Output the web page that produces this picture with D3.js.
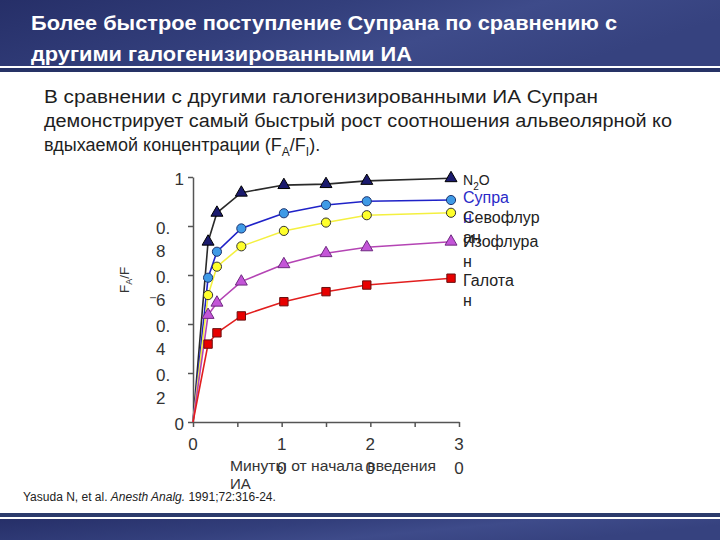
<!DOCTYPE html>
<html><head><meta charset="utf-8">
<script src="https://cdn.jsdelivr.net/npm/d3@7"></script>
<style>body{margin:0;background:#fff}svg{display:block}text{font-family:"Liberation Sans",Arial,sans-serif}</style>
</head><body><svg id="c" width="720" height="540"></svg>
<script>
// ---- data ----
const times  = [0, 1.7, 2.7, 5.45, 10.25, 15.0, 19.6, 29.1];
const n2o    = [0, 0.736, 0.854, 0.936, 0.967, 0.971, 0.984, 0.995];
const supran = [0, 0.589, 0.695, 0.790, 0.852, 0.886, 0.901, 0.906];
const sevo   = [0, 0.518, 0.634, 0.717, 0.780, 0.814, 0.844, 0.854];
const iso    = [0, 0.437, 0.487, 0.573, 0.644, 0.689, 0.713, 0.736];
const halo   = [0, 0.318, 0.364, 0.433, 0.491, 0.532, 0.559, 0.587];
const xTicks = [0, 5, 10, 15, 20, 25, 30];
const xLabelValues = [0, 10, 20, 30];
const xLabels = ["0", "1\n0", "2\n0", "3\n0"];
const yTicks = [0, 0.2, 0.4, 0.6, 0.8, 1];
const yLabels = ["0", "0.\n2", "0.\n4", "0.\n6", "0.\n8", "1"];
const seriesNames = ["N2O", "Супра\nн", "Севофлур\nан", "Изофлура\nн", "Галота\nн"];
const titleLines = ["Более быстрое поступление Супрана по сравнению с", "другими галогенизированными ИА"];
const subLines = ["В сравнении с другими галогенизированными ИА Супран", "демонстрирует самый быстрый рост соотношения альвеолярной ко"];

const svg = d3.select("#c");
// ---- banners ----
const defs = svg.append("defs");
const g1 = defs.append("linearGradient").attr("id","bg").attr("x1","0").attr("x2","1").attr("y1","0").attr("y2","0.3");
g1.append("stop").attr("offset","0").attr("stop-color","#262f68");
g1.append("stop").attr("offset","0.45").attr("stop-color","#333f7c");
g1.append("stop").attr("offset","0.7").attr("stop-color","#3e4b8a");
g1.append("stop").attr("offset","1").attr("stop-color","#36427f");
svg.append("rect").attr("x",0).attr("y",0).attr("width",720).attr("height",66).attr("fill","url(#bg)");
svg.append("rect").attr("x",0).attr("y",68).attr("width",720).attr("height",4).attr("fill","#263266");
svg.append("rect").attr("x",0).attr("y",513).attr("width",720).attr("height",4).attr("fill","#2c3b6c");
svg.append("rect").attr("x",0).attr("y",519).attr("width",720).attr("height",21).attr("fill","url(#bg)");

svg.append("text").attr("x",31).attr("y",30).attr("fill","#fff").attr("font-weight","bold").attr("font-size",19.5)
  .attr("textLength",586).attr("lengthAdjust","spacingAndGlyphs").text(titleLines[0]);
svg.append("text").attr("x",31).attr("y",61).attr("fill","#fff").attr("font-weight","bold").attr("font-size",19.5)
  .attr("textLength",381).attr("lengthAdjust","spacingAndGlyphs").text(titleLines[1]);

svg.append("text").attr("x",44).attr("y",103).attr("fill","#1e1e1e").attr("font-size",18)
  .attr("textLength",554).attr("lengthAdjust","spacingAndGlyphs").text(subLines[0]);
svg.append("text").attr("x",44).attr("y",127).attr("fill","#1e1e1e").attr("font-size",18)
  .attr("textLength",628).attr("lengthAdjust","spacingAndGlyphs").text(subLines[1]);
const s3 = svg.append("text").attr("x",44).attr("y",151).attr("fill","#1e1e1e").attr("font-size",18);
s3.append("tspan").text("вдыхаемой концентрации (F");
s3.append("tspan").attr("font-size",12).attr("dy",5).text("A");
s3.append("tspan").attr("dy",-5).text("/F");
s3.append("tspan").attr("font-size",12).attr("dy",5).text("I");
s3.append("tspan").attr("dy",-5).text(").");

const cit = svg.append("text").attr("x",23).attr("y",501).attr("fill","#222").attr("font-size",12);
cit.append("tspan").text("Yasuda N, et al. ");
cit.append("tspan").attr("font-style","italic").text("Anesth Analg.");
cit.append("tspan").text(" 1991;72:316-24.");

// ---- scales & axes ----
const x = d3.scaleLinear().domain([0,30]).range([193,459]);
const y = d3.scaleLinear().domain([0,1]).range([422,177]);

const ax = svg.append("g").attr("transform","translate(0,422)")
  .call(d3.axisBottom(x).tickValues(xTicks).tickSize(5).tickSizeOuter(0).tickFormat(""));
const ay = svg.append("g").attr("transform","translate(193,0)")
  .call(d3.axisLeft(y).tickValues(yTicks).tickSize(5).tickSizeOuter(0).tickFormat(""));
[ax, ay].forEach(a => { a.selectAll("path,line").attr("stroke","#555").attr("stroke-width",1.5); });

const axisFont = 17, axisColor = "#333";
xLabelValues.forEach((v,i) => {
  const lines = xLabels[i].split("\n");
  lines.forEach((l,j) => svg.append("text").attr("x",x(v)).attr("y",450 + j*24)
    .attr("text-anchor","middle").attr("font-size",axisFont).attr("fill",axisColor).text(l));
});
yTicks.forEach((v,i) => {
  const lines = yLabels[i].split("\n");
  if (lines.length === 1) {
    svg.append("text").attr("x",184).attr("y",y(v)+7.5).attr("text-anchor","end")
      .attr("font-size",axisFont).attr("fill",axisColor).text(lines[0]);
  } else {
    lines.forEach((l,j) => svg.append("text").attr("x",156).attr("y",y(v)+8+j*23)
      .attr("font-size",axisFont).attr("fill",axisColor).text(l));
  }
});

// axis titles
const yt = svg.append("text").attr("transform","translate(129,293) rotate(-90)").attr("font-size",13.5).attr("fill",axisColor);
yt.append("tspan").text("F");
yt.append("tspan").attr("font-size",9).attr("dy",3).text("A");
yt.append("tspan").attr("dy",-3).text("/F");
svg.append("text").attr("transform","translate(156,299) rotate(-90)").attr("font-size",9).attr("fill",axisColor).text("I");

svg.append("text").attr("x",230).attr("y",471).attr("font-size",15).attr("fill",axisColor)
  .attr("textLength",206).attr("lengthAdjust","spacingAndGlyphs").text("Минуты от начала введения");
svg.append("text").attr("x",230).attr("y",489).attr("font-size",15).attr("fill",axisColor).text("ИА");

// ---- series ----
const series = [
  {vals:n2o,    line:"#2a2a2a", fill:"#1b1b6e", stroke:"#000",    sym:d3.symbolTriangle, size:62},
  {vals:supran, line:"#1f22c8", fill:"#3f9ae6", stroke:"#1c3470", sym:d3.symbolCircle,   size:66},
  {vals:sevo,   line:"#f4f040", fill:"#ffff2a", stroke:"#333",    sym:d3.symbolCircle,   size:66},
  {vals:iso,    line:"#b444b4", fill:"#c455d8", stroke:"#6e2a80", sym:d3.symbolTriangle, size:62},
  {vals:halo,   line:"#e21e1e", fill:"#e80000", stroke:"#6a1010", sym:d3.symbolSquare,   size:70}
];
const lineGen = d3.line().x((d,i)=>x(times[i])).y(d=>y(d));
series.forEach(s => {
  svg.append("path").attr("d", lineGen(s.vals)).attr("fill","none").attr("stroke", s.line).attr("stroke-width",1.6);
});
series.forEach(s => {
  svg.append("g").selectAll("path").data(s.vals.slice(1)).join("path")
    .attr("transform",(d,i)=>`translate(${x(times[i+1])},${y(d)})`)
    .attr("d", d3.symbol().type(s.sym).size(s.size))
    .attr("fill", s.fill).attr("stroke", s.stroke).attr("stroke-width",1);
});

// ---- labels ----
const lx = 463;
const nt = svg.append("text").attr("x",lx).attr("y",185).attr("font-size",14).attr("fill","#222");
nt.append("tspan").text("N");
nt.append("tspan").attr("font-size",10).attr("dy",5).text("2");
nt.append("tspan").attr("dy",-5).text("O");
const labelBase = [null, 203, 223, 247, 286];
const labelColor = [null, "#2a2ac8", "#222", "#222", "#222"];
for (let k = 1; k < seriesNames.length; k++) {
  seriesNames[k].split("\n").forEach((l,j) => svg.append("text").attr("x",lx).attr("y",labelBase[k]+j*19.5)
    .attr("font-size",16).attr("fill",labelColor[k]).text(l));
}
</script></body></html>
